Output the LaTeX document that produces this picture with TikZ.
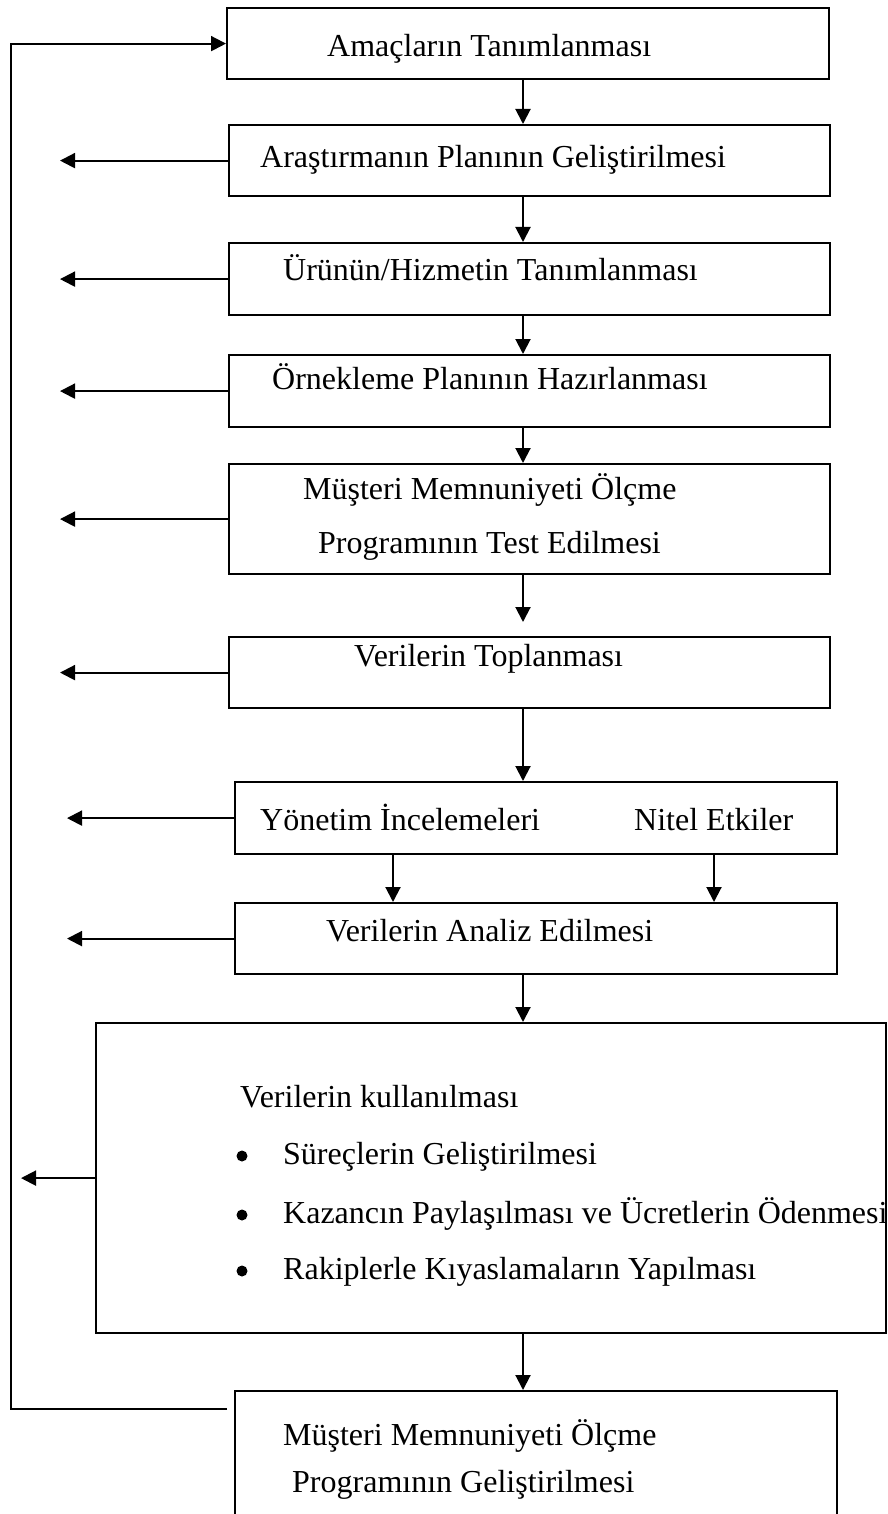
\documentclass[tikz,border=0pt]{standalone}
\usepackage{fontspec}
\setmainfont{Liberation Serif}
\usetikzlibrary{arrows.meta}
\tikzset{
  >={Triangle[length=15pt,width=15pt]},
  box/.style={draw,line width=2.2pt,inner sep=0pt,anchor=north west},
  txt/.style={inner sep=0pt,anchor=base west,font=\fontsize{32}{36}\selectfont},
  dot/.style={circle,fill,inner sep=0pt,minimum size=11pt},
  flow/.style={->,line width=2pt},
}

\begin{document}
\begin{tikzpicture}[x=1pt,y=-1pt]
  \useasboundingbox (0,0) rectangle (887,1514);
  \clip (0,0) rectangle (887,1514);

  \node[box,minimum width=602pt,minimum height=71pt] (b1) at (226,7) {};
  \node[box,minimum width=601pt,minimum height=71pt] (b2) at (228,124) {};
  \node[box,minimum width=601pt,minimum height=72pt] (b3) at (228,242) {};
  \node[box,minimum width=601pt,minimum height=72pt] (b4) at (228,354) {};
  \node[box,minimum width=601pt,minimum height=110pt] (b5) at (228,463) {};
  \node[box,minimum width=601pt,minimum height=71pt] (b6) at (228,636) {};
  \node[box,minimum width=602pt,minimum height=72pt] (b7) at (234,781) {};
  \node[box,minimum width=602pt,minimum height=71pt] (b8) at (234,902) {};
  \node[box,minimum width=790pt,minimum height=310pt] (b9) at (95,1022) {};
  \node[box,minimum width=602pt,minimum height=160pt] (b10) at (234,1390) {};

  \node[txt] (t1) at (327,57) {Amaçların Tanımlanması};
  \node[txt] (t2) at (260,168) {Araştırmanın Planının Geliştirilmesi};
  \node[txt] (t3) at (283,280) {Ürünün/Hizmetin Tanımlanması};
  \node[txt] (t4) at (272,389) {Örnekleme Planının Hazırlanması};
  \node[txt] (t5a) at (303,499) {Müşteri Memnuniyeti Ölçme};
  \node[txt] (t5b) at (318,553) {Programının Test Edilmesi};
  \node[txt] (t6) at (354,666) {Verilerin Toplanması};
  \node[txt] (t7a) at (260,830) {Yönetim İncelemeleri};
  \node[txt] (t7b) at (634,830) {Nitel Etkiler};
  \node[txt] (t8) at (326,941) {Verilerin Analiz Edilmesi};
  \node[txt] (t9) at (240,1107) {Verilerin kullanılması};
  \node[dot] (d1) at (242,1156) {};
  \node[dot] (d2) at (242,1215) {};
  \node[dot] (d3) at (242,1271) {};
  \node[txt] (i1) at (283,1164) {Süreçlerin Geliştirilmesi};
  \node[txt] (i2) at (283,1223) {Kazancın Paylaşılması ve Ücretlerin Ödenmesi};
  \node[txt] (i3) at (283,1279) {Rakiplerle Kıyaslamaların Yapılması};
  \node[txt] (t10a) at (283,1445) {Müşteri Memnuniyeti Ölçme};
  \node[txt] (t10b) at (292,1492) {Programının Geliştirilmesi};

  \coordinate (spine) at (523,0);
  \coordinate (left) at (393,0);
  \coordinate (right) at (714,0);
  \coordinate (tipA) at (60,0);
  \coordinate (tipB) at (67,0);
  \coordinate (tipC) at (21,0);
  \coordinate (loop) at (11,1409);

  \draw[flow] (b1.south -| spine) -- (b2.north -| spine);
  \draw[flow] (b2.south -| spine) -- (b3.north -| spine);
  \draw[flow] (b3.south -| spine) -- (b4.north -| spine);
  \draw[flow] (b4.south -| spine) -- (b5.north -| spine);
  \draw[flow,shorten >=14pt] (b5.south -| spine) -- (b6.north -| spine);
  \draw[flow] (b6.south -| spine) -- (b7.north -| spine);
  \draw[flow] (b7.south -| left) -- (b8.north -| left);
  \draw[flow] (b7.south -| right) -- (b8.north -| right);
  \draw[flow] (b8.south -| spine) -- (b9.north -| spine);
  \draw[flow] (b9.south -| spine) -- (b10.north -| spine);

  \draw[flow] (b2.west) -- (b2.west -| tipA);
  \draw[flow] (b3.west) -- (b3.west -| tipA);
  \draw[flow] (b4.west) -- (b4.west -| tipA);
  \draw[flow] (b5.west) -- (b5.west -| tipA);
  \draw[flow] (b6.west) -- (b6.west -| tipA);
  \draw[flow] (b7.west) -- (b7.west -| tipB);
  \draw[flow] (b8.west) -- (b8.west -| tipB);
  \draw[flow] (b9.west) -- (b9.west -| tipC);

  \draw[flow,shorten <=7pt] (loop -| b10.west) -- (loop) |- (b1.west);
\end{tikzpicture}
\end{document}
